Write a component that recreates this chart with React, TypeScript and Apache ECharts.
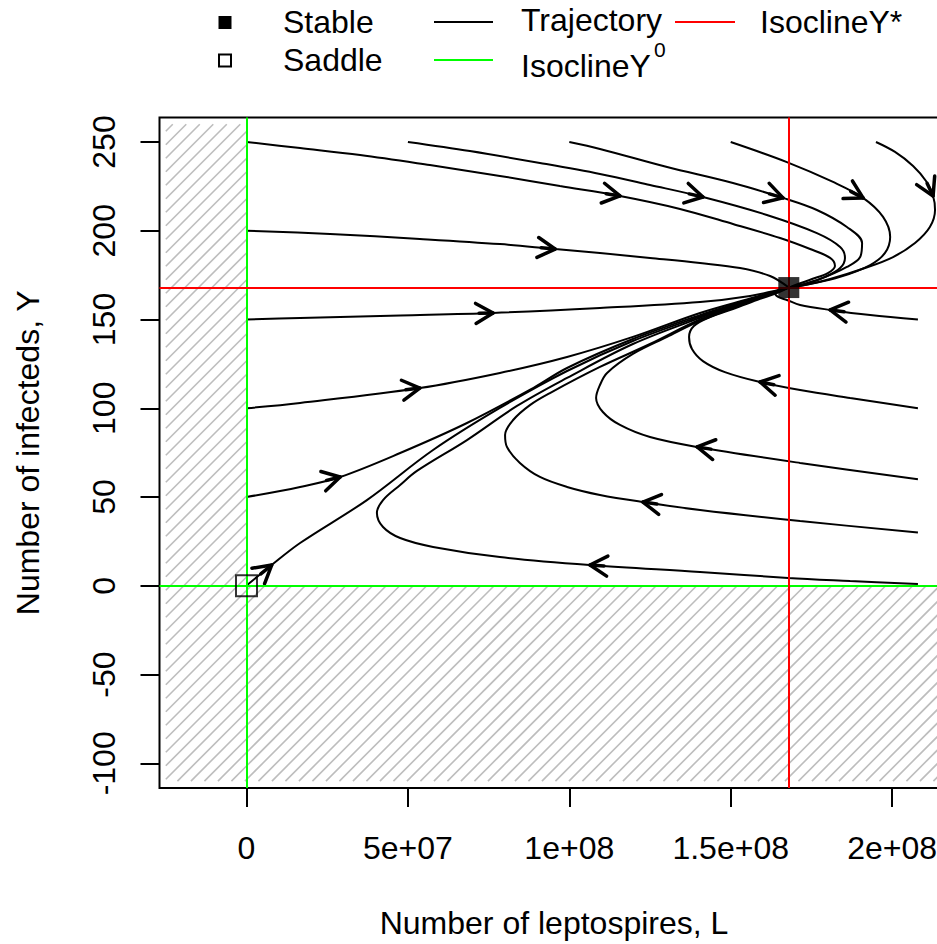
import { useEffect, useRef } from "react";
import * as echarts from "echarts";

// Axis ticks and labels
const xTicks = [0, 5e7, 1e8, 1.5e8, 2e8];
const xTickLabels = ["0", "5e+07", "1e+08", "1.5e+08", "2e+08"];
const yTicks = [-100, -50, 0, 50, 100, 150, 200, 250];

// Equilibria
const stablePoint = [168e6, 168];
const saddlePoint = [0, 0];

// Isoclines: Y^0 (L = 0 and Y = 0) and Y* (L = L*, Y = Y*)
const isoclineY0 = { L: 0, Y: 0 };
const isoclineYstar = { L: 168e6, Y: 168 };

// Infeasible (negative) regions: [Lmin, Lmax, Ymin, Ymax]
const infeasibleRegions = [
  [-25e6, 0, -110, 260],
  [0, 216e6, -110, 0],
];

// Trajectories, [L, Y] along each solution
const trajA = [[0, 250], [16.6e6, 246.6], [35.2e6, 242.7], [56.8e6, 237.0], [78.5e6, 230.9], [97.1e6, 225.2], [115.7e6, 219.6], [134.3e6, 212.3], [150.7e6, 203.8], [165.3e6, 195.9], [174.6e6, 189.7], [180.8e6, 184.7], [182.3e6, 180.2], [180.1e6, 176.2], [175.2e6, 172.8], [170.9e6, 170.0], [168e6, 168]];
const trajB = [[50e6, 250], [69.2e6, 244.9], [90.9e6, 238.2], [109.5e6, 232.0], [125.0e6, 225.8], [141.4e6, 219.0], [161.2e6, 208.9], [176.7e6, 198.7], [183.9e6, 190.9], [185.4e6, 184.7], [183.9e6, 179.0], [179.2e6, 174.0], [173.0e6, 170.0], [168e6, 168]];
const trajC = [[100e6, 250], [109.5e6, 246.1], [130.3e6, 235.9], [150.7e6, 226.9], [166.2e6, 218.5], [176.7e6, 211.7], [186.0e6, 202.1], [190.7e6, 193.1], [190.1e6, 185.2], [186.0e6, 179.6], [177.7e6, 172.8], [171.5e6, 169.4], [168e6, 168]];
const trajD = [[150e6, 250], [167.4e6, 238.7], [181.7e6, 227.5], [191.0e6, 218.5], [197.2e6, 207.8], [199.4e6, 196.5], [197.8e6, 187.5], [193.2e6, 180.7], [183.9e6, 174.0], [174.6e6, 170.0], [168e6, 168]];
const trajE = [[195e6, 250], [200.9e6, 244.4], [206.5e6, 236.5], [210.5e6, 228.0], [212.7e6, 219.6], [213.3e6, 211.7], [211.7e6, 202.1], [207.1e6, 193.1], [200.3e6, 185.2], [191.6e6, 179.0], [180.8e6, 172.8], [173.0e6, 169.4], [168e6, 168]];
const trajF = [[0, 200], [25.9e6, 198.2], [53.7e6, 195.4], [78.5e6, 192.5], [95.6e6, 189.7], [109.5e6, 187.5], [125.0e6, 184.7], [140.5e6, 181.8], [152.9e6, 179.0], [162.2e6, 174.5], [168e6, 168]];
const trajG = [[0, 150], [16.6e6, 150.9], [47.6e6, 152.3], [76.4e6, 153.7], [109.5e6, 156.5], [140.5e6, 159.9], [156.0e6, 163.3], [168e6, 168]];
const trajH = [[0, 100], [16.6e6, 103.0], [53.7e6, 111.4], [78.5e6, 119.9], [99.3e6, 128.9], [119.7e6, 140.2], [140.5e6, 153.7], [156.0e6, 161.8], [168e6, 168]];
const trajI = [[0, 50], [16.6e6, 55.7], [29.0e6, 61.3], [47.6e6, 74.8], [68.3e6, 91.7], [88.8e6, 111.4], [99.3e6, 122.7], [119.7e6, 139.0], [140.5e6, 152.5], [156.0e6, 161.3], [168e6, 168]];
const trajJ = [[0.2e6, 0.4], [7.8e6, 11.7], [16.6e6, 24.1], [37.3e6, 48.3], [57.8e6, 76.5], [78.5e6, 100.2], [99.3e6, 121.0], [119.7e6, 137.9], [140.5e6, 151.7], [156.0e6, 161.0], [168e6, 168]];
const trajK = [[208e6, 150], [193.2e6, 152.5], [180.8e6, 155.4], [171.5e6, 158.2], [167.4e6, 161.0], [164.7e6, 162.7], [163.7e6, 164.9], [165.0e6, 166.6], [168e6, 168]];
const trajM = [[208e6, 100], [187.0e6, 105.8], [171.5e6, 110.3], [159.1e6, 114.8], [148.2e6, 120.4], [141.4e6, 126.6], [138.0e6, 133.4], [137.1e6, 140.2], [138.6e6, 146.4], [143.6e6, 151.4], [150.7e6, 155.9], [159.1e6, 161.6], [164.3e6, 164.9], [168e6, 168]];
const trajN = [[208e6, 60], [171.5e6, 69.2], [139.6e6, 78.2], [125.0e6, 83.8], [115.7e6, 90.6], [110.4e6, 97.9], [108.3e6, 105.8], [109.5e6, 113.1], [111.7e6, 119.9], [119.7e6, 130.6], [130.3e6, 140.2], [140.5e6, 149.2], [156.0e6, 160.2], [168e6, 168]];
const trajP = [[208e6, 30], [171.5e6, 36.5], [140.5e6, 42.7], [122.8e6, 47.2], [109.5e6, 51.2], [99.3e6, 55.7], [90.9e6, 61.3], [84.7e6, 69.2], [80.7e6, 78.2], [80.1e6, 85.0], [82.6e6, 93.4], [87.8e6, 101.8], [94.0e6, 108.6], [109.5e6, 123.3], [125.0e6, 136.2], [140.5e6, 150.0], [156.0e6, 160.4], [168e6, 168]];
const trajQ = [[208e6, 1], [187.0e6, 2.7], [167.8e6, 4.4], [140.5e6, 7.8], [106.4e6, 11.7], [78.5e6, 16.2], [57.8e6, 21.9], [47.6e6, 26.9], [42.3e6, 33.1], [40.4e6, 41.0], [42.3e6, 48.3], [47.6e6, 56.8], [52.8e6, 64.7], [68.3e6, 82.1], [83.8e6, 101.3], [99.3e6, 117.1], [119.7e6, 136.2], [140.5e6, 150.9], [156.0e6, 160.7], [168e6, 168]];

const trajectories = [trajA, trajB, trajC, trajD, trajE, trajF, trajG, trajH, trajI, trajJ, trajK, trajM, trajN, trajP, trajQ];
// index of the point on each trajectory where the direction arrow sits
const arrowAt = [6, 5, 4, 3, 4, 4, 3, 2, 2, 1, 2, 3, 2, 3, 4];

const FONT = '"Liberation Sans", Arial, Helvetica, sans-serif';
const GREEN = "#00ff00";
const RED = "#ff0000";
const HATCH = "#bdbdbd";
const HATCH_STEP = 13.5;

function renderHatch(_params: any, api: any) {
  const a = api.coord([api.value(0), api.value(3)]);
  const b = api.coord([api.value(1), api.value(2)]);
  const x0 = Math.min(a[0], b[0]);
  const x1 = Math.max(a[0], b[0]);
  const y0 = Math.min(a[1], b[1]);
  const y1 = Math.max(a[1], b[1]);
  const children: any[] = [];
  const start = Math.ceil((x0 + y0) / HATCH_STEP) * HATCH_STEP;
  for (let c = start; c <= x1 + y1; c += HATCH_STEP) {
    const xa = Math.max(x0, c - y1);
    const xb = Math.min(x1, c - y0);
    if (xb - xa < 0.5) continue;
    children.push({
      type: "line",
      shape: { x1: xa, y1: c - xa, x2: xb, y2: c - xb },
      style: { stroke: HATCH, lineWidth: 1.6 },
    });
  }
  return { type: "group", children };
}

function renderArrow(_params: any, api: any) {
  const tip = api.coord([api.value(0), api.value(1)]);
  const back = api.coord([api.value(2), api.value(3)]);
  let dx = tip[0] - back[0];
  let dy = tip[1] - back[1];
  const len = Math.hypot(dx, dy) || 1;
  dx /= len;
  dy /= len;
  const head = 20;
  const ang = Math.PI / 6;
  const rot = (t: number) => [dx * Math.cos(t) - dy * Math.sin(t), dx * Math.sin(t) + dy * Math.cos(t)];
  const r1 = rot(ang);
  const r2 = rot(-ang);
  const style = { stroke: "#000", lineWidth: 3.5, fill: "none", lineCap: "round", lineJoin: "round" };
  return {
    type: "group",
    children: [
      {
        type: "polyline",
        shape: {
          points: [
            [tip[0] - head * r1[0], tip[1] - head * r1[1]],
            [tip[0], tip[1]],
            [tip[0] - head * r2[0], tip[1] - head * r2[1]],
          ],
        },
        style,
      },
      {
        type: "line",
        shape: { x1: tip[0] - 14 * dx, y1: tip[1] - 14 * dy, x2: tip[0], y2: tip[1] },
        style,
      },
    ],
  };
}

export default function App() {
  const ref = useRef<HTMLDivElement>(null);

  useEffect(() => {
    if (!ref.current) return;
    const chart = echarts.init(ref.current, null, { renderer: "svg" });

    const arrows = trajectories.map((t, i) => {
      const k = arrowAt[i];
      return [t[k][0], t[k][1], t[k - 1][0], t[k - 1][1]];
    });

    const textStyle = { fontSize: 32, fontFamily: FONT, color: "#000" };

    const option: any = {
      animation: false,
      backgroundColor: "#fff",
      grid: {
        left: 159.5,
        top: 117.5,
        right: 51.5,
        bottom: 156,
        show: true,
        borderColor: "#000",
        borderWidth: 2,
        backgroundColor: "transparent",
      },
      xAxis: {
        type: "value",
        min: -26.95e6,
        max: 217.47e6,
        axisLine: { show: false, onZero: false },
        splitLine: { show: false },
        axisTick: { show: true, length: 19, lineStyle: { color: "#000", width: 2 }, customValues: xTicks },
        axisLabel: {
          customValues: xTicks,
          formatter: (v: number) => {
            const i = xTicks.indexOf(v);
            return i >= 0 ? xTickLabels[i] : "";
          },
          margin: 44,
          ...textStyle,
        },
        name: "Number of leptospires, L",
        nameLocation: "middle",
        nameGap: 119,
        nameTextStyle: textStyle,
      },
      yAxis: {
        type: "value",
        min: -113.9,
        max: 263.8,
        axisLine: { show: false, onZero: false },
        splitLine: { show: false },
        axisTick: { show: true, length: 19, lineStyle: { color: "#000", width: 2 }, customValues: yTicks },
        axisLabel: {
          customValues: yTicks,
          rotate: 90,
          margin: 40,
          formatter: (v: number) => String(v),
          ...textStyle,
        },
        name: "Number of infecteds, Y",
        nameLocation: "middle",
        nameGap: 116,
        nameTextStyle: textStyle,
      },
      series: [
        {
          type: "line",
          data: [saddlePoint],
          symbol: "none",
          silent: true,
          z: 1,
          lineStyle: { opacity: 0 },
          markLine: {
            symbol: ["none", "none"],
            silent: true,
            label: { show: false },
            data: [
              { xAxis: isoclineY0.L, lineStyle: { color: GREEN, width: 2, type: "solid" } },
              { yAxis: isoclineY0.Y, lineStyle: { color: GREEN, width: 2, type: "solid" } },
              { xAxis: isoclineYstar.L, lineStyle: { color: RED, width: 2, type: "solid" } },
              { yAxis: isoclineYstar.Y, lineStyle: { color: RED, width: 2, type: "solid" } },
            ],
          },
        },
        {
          type: "custom",
          z: 2,
          silent: true,
          renderItem: renderHatch,
          encode: { x: [0, 1], y: [2, 3] },
          data: infeasibleRegions,
        },
        ...trajectories.map((t) => ({
          type: "line",
          data: t,
          z: 3,
          silent: true,
          showSymbol: false,
          symbol: "none",
          smooth: 0.35,
          lineStyle: { color: "#000", width: 2 },
        })),
        {
          type: "custom",
          z: 4,
          silent: true,
          renderItem: renderArrow,
          encode: { x: [0, 2], y: [1, 3] },
          data: arrows,
        },
        {
          type: "scatter",
          z: 5,
          silent: true,
          symbol: "rect",
          symbolSize: 21,
          data: [stablePoint],
          itemStyle: { color: "#000" },
        },
        {
          type: "scatter",
          z: 5,
          silent: true,
          symbol: "rect",
          symbolSize: 21,
          data: [saddlePoint],
          itemStyle: { color: "rgba(0,0,0,0)", borderColor: "#000", borderWidth: 2 },
        },
      ],
      graphic: [
        { type: "rect", shape: { x: 218.5, y: 16, width: 13, height: 13 }, style: { fill: "#000" } },
        { type: "rect", shape: { x: 219, y: 54.5, width: 12, height: 12 }, style: { fill: "none", stroke: "#000", lineWidth: 2 } },
        { type: "text", x: 283, y: 22, style: { text: "Stable", font: `32px ${FONT}`, fill: "#000", verticalAlign: "middle" } },
        { type: "text", x: 283, y: 60, style: { text: "Saddle", font: `32px ${FONT}`, fill: "#000", verticalAlign: "middle" } },
        { type: "line", shape: { x1: 434, y1: 22, x2: 493, y2: 22 }, style: { stroke: "#000", lineWidth: 2 } },
        { type: "line", shape: { x1: 434, y1: 60, x2: 493, y2: 60 }, style: { stroke: GREEN, lineWidth: 2 } },
        { type: "text", x: 521, y: 20, style: { text: "Trajectory", font: `32px ${FONT}`, fill: "#000", verticalAlign: "middle" } },
        { type: "text", x: 521, y: 66, style: { text: "IsoclineY", font: `32px ${FONT}`, fill: "#000", verticalAlign: "middle" } },
        { type: "text", x: 654, y: 49, style: { text: "0", font: `21px ${FONT}`, fill: "#000", verticalAlign: "middle" } },
        { type: "line", shape: { x1: 675, y1: 22, x2: 735, y2: 22 }, style: { stroke: RED, lineWidth: 2 } },
        { type: "text", x: 760, y: 22, style: { text: "IsoclineY*", font: `32px ${FONT}`, fill: "#000", verticalAlign: "middle" } },
      ],
    };

    chart.setOption(option);
    return () => chart.dispose();
  }, []);

  return (
    <div
      style={{
        position: "fixed",
        left: 0,
        top: 0,
        width: 937,
        height: 944,
        overflow: "hidden",
        background: "#fff",
      }}
    >
      <div ref={ref} style={{ width: 1000, height: 944 }} />
    </div>
  );
}
